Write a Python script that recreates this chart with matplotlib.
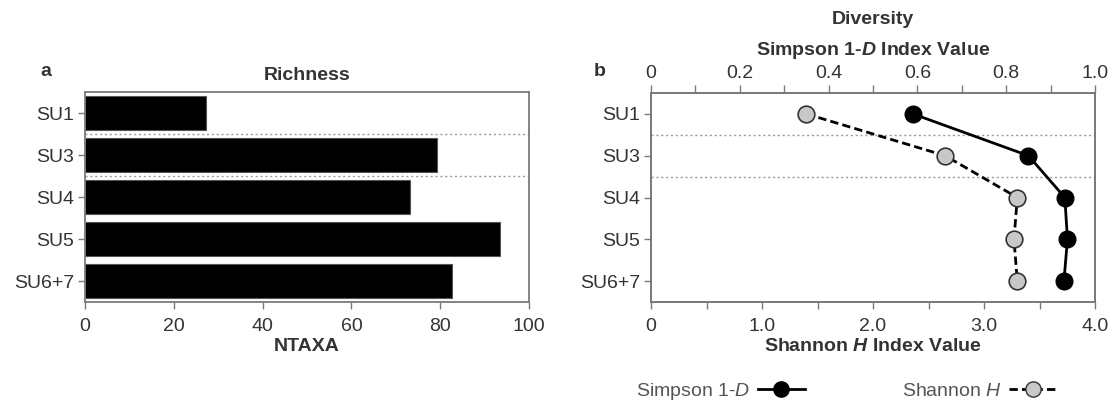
import matplotlib

matplotlib.use('Agg')
import matplotlib.pyplot as plt
from matplotlib.lines import Line2D
import numpy as np

plt.rcParams['font.family'] = ['Liberation Sans', 'DejaVu Sans']
plt.rcParams['mathtext.fontset'] = 'custom'
plt.rcParams['mathtext.rm'] = 'Liberation Sans'
plt.rcParams['mathtext.it'] = 'Liberation Sans:italic'
plt.rcParams['mathtext.bf'] = 'Liberation Sans:bold'
plt.rcParams['mathtext.bfit'] = 'Liberation Sans:bold:italic'

# data
units = ['SU1', 'SU3', 'SU4', 'SU5', 'SU6+7']
ntaxa = [27.2, 79.3, 73.3, 93.4, 82.6]
simpson = [0.59, 0.85, 0.932, 0.938, 0.93]
shannon = [1.40, 2.65, 3.30, 3.27, 3.30]

spine_col = '#7a7a7a'
text_col = '#333333'
fs = 14

fig = plt.figure(figsize=(11.15, 4.0), dpi=100)
ax_a = fig.add_axes([85 / 1115, 98 / 400, 444 / 1115, 210 / 400])
ax_b = fig.add_axes([651 / 1115, 98 / 400, 444 / 1115, 209 / 400])

ypos = np.arange(len(units))


def style_axis(ax):
    for s in ax.spines.values():
        s.set_color(spine_col)
        s.set_linewidth(1.3)
    ax.tick_params(colors=spine_col, labelcolor=text_col, labelsize=fs,
                   length=5, width=1, direction='out', pad=3)
    ax.tick_params(axis='x', pad=6.5)
    ax.tick_params(which='minor', colors=spine_col, length=5, width=1)
    ax.set_ylim(len(units) - 0.5, -0.5)
    ax.set_yticks(ypos)
    ax.set_yticklabels(units)
    for y in (0.5, 1.5):
        ax.axhline(y, color='#9a9a9a', lw=1, ls=(0, (1.5, 2)), zorder=0.5)


# panel a - richness
style_axis(ax_a)
ax_a.barh(ypos, ntaxa, height=0.8, color='black', edgecolor='#555555',
          linewidth=0.8, zorder=2)
ax_a.set_xlim(0, 100)
ax_a.set_xticks(np.arange(0, 101, 20))
ax_a.set_xlabel('NTAXA', fontsize=fs, fontweight='bold', color=text_col, labelpad=2.5)
ax_a.set_title('Richness', fontsize=fs, fontweight='bold', color=text_col, pad=9)
fig.text(40 / 1115, 1 - 72 / 400, 'a', fontsize=fs, fontweight='bold',
         color=text_col, va='center', ha='left')

# panel b - diversity
style_axis(ax_b)
ax_b.set_xlim(0, 4.0)
ax_b.set_xticks([0, 1, 2, 3, 4])
ax_b.set_xticklabels(['0', '1.0', '2.0', '3.0', '4.0'])
ax_b.set_xticks(np.arange(0.5, 4, 1.0), minor=True)
ax_b.set_xlabel('Shannon $\\mathbfit{H}$ Index Value', fontsize=fs,
                fontweight='bold', color=text_col, labelpad=2.5)

ax_t = ax_b.twiny()
ax_t.set_xlim(0, 1.0)
ax_t.set_xticks(np.arange(0, 1.01, 0.2))
ax_t.set_xticklabels(['0', '0.2', '0.4', '0.6', '0.8', '1.0'])
ax_t.set_xticks(np.arange(0.1, 1.0, 0.2), minor=True)
ax_t.tick_params(colors=spine_col, labelcolor=text_col, labelsize=fs,
                 length=6, width=1, direction='out', pad=2)
ax_t.tick_params(which='minor', colors=spine_col, length=6, width=1)
for s in ax_t.spines.values():
    s.set_color(spine_col)
    s.set_linewidth(1.3)
ax_t.set_xlabel('Simpson 1-$\\mathbfit{D}$ Index Value', fontsize=fs,
                fontweight='bold', color=text_col, labelpad=7)
ax_t.set_ylim(len(units) - 0.5, -0.5)

ax_b.plot(shannon, ypos, color='black', lw=2, ls=(0, (3, 1.5)), marker='o',
          ms=12, mfc='#c8c8c8', mec='#333333', mew=1.2, zorder=3)
ax_t.plot(simpson, ypos, color='black', lw=2, ls='-', marker='o',
          ms=12, mfc='black', mec='black', zorder=3)

fig.text(873 / 1115, 1 - 20 / 400, 'Diversity', fontsize=fs, fontweight='bold',
         color=text_col, ha='center', va='center')
fig.text(594 / 1115, 1 - 72 / 400, 'b', fontsize=fs, fontweight='bold',
         color=text_col, va='center', ha='left')

# legend
h_simp = Line2D([], [], color='black', lw=2, ls='-', marker='o', ms=11,
                mfc='black', mec='black')
h_shan = Line2D([], [], color='black', lw=2, ls=(0, (3, 1.5)), marker='o',
                ms=11, mfc='#c8c8c8', mec='#333333')
leg = fig.legend([h_simp, h_shan], ['Simpson 1-$\\it{D}$', 'Shannon $\\it{H}$'],
                 loc='center', bbox_to_anchor=(846 / 1115, 1 - 391 / 400),
                 ncol=2, frameon=False, markerfirst=False, fontsize=fs,
                 handlelength=2.4, columnspacing=5.0, handletextpad=0.4)
for t in leg.get_texts():
    t.set_color('#555555')

fig.savefig('out.png', dpi=100)
